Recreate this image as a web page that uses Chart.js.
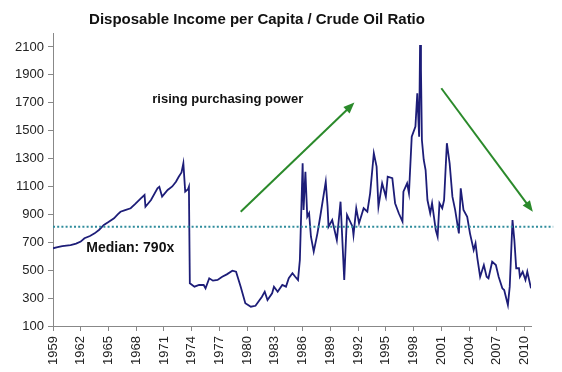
<!DOCTYPE html>
<html lang="en">
  <head>
    <meta charset="UTF-8" />
    <title>Disposable Income per Capita / Crude Oil Ratio</title>
    <script src="https://cdn.jsdelivr.net/npm/chart.js@4.4.1/dist/chart.umd.min.js"></script>
    <style>
      body { margin: 0; background: #fff; }
      #wrap { width: 562px; height: 372px; }
    </style>
  </head>
  <body>
    <div id="wrap"><canvas id="myChart"></canvas></div>
    <script>
    // values (year, ratio)
    const years = [
      1959.0, 1959.5, 1960.0, 1960.9, 1961.5, 1962.0, 1962.4, 1963.0, 1963.5, 1964.0,
      1964.5, 1965.0, 1965.6, 1966.0, 1966.3, 1966.8, 1967.4, 1967.9, 1968.5, 1968.9,
      1969.0, 1969.6, 1970.3, 1970.5, 1970.8, 1971.4, 1971.9, 1972.3, 1972.6, 1972.9,
      1973.1, 1973.3, 1973.6, 1973.7, 1973.8, 1974.3, 1974.8, 1975.3, 1975.5, 1975.9,
      1976.3, 1976.8, 1977.3, 1977.8, 1978.4, 1978.8, 1979.3, 1979.8, 1980.4, 1980.9,
      1981.6, 1981.9, 1982.2, 1982.7, 1982.9, 1983.3, 1983.8, 1984.2, 1984.5, 1984.9,
      1985.2, 1985.5, 1985.7, 1986.0, 1986.1, 1986.3, 1986.5, 1986.7, 1986.9, 1987.2,
      1987.6, 1987.9, 1988.5, 1988.7, 1988.8, 1989.2, 1989.7, 1990.1, 1990.5, 1990.8,
      1991.4, 1991.5, 1991.8, 1992.1, 1992.6, 1993.0, 1993.3, 1993.7, 1994.0, 1994.2,
      1994.6, 1995.0, 1995.2, 1995.7, 1996.0, 1996.4, 1996.8, 1996.9, 1997.3, 1997.5,
      1997.8, 1998.2, 1998.4, 1998.6, 1998.7, 1998.8, 1998.9, 1999.1, 1999.3, 1999.5,
      1999.8, 2000.0, 2000.4, 2000.6, 2000.8, 2001.1, 2001.3, 2001.6, 2001.9, 2002.2,
      2002.5, 2002.9, 2003.1, 2003.4, 2003.8, 2004.1, 2004.5, 2004.7, 2004.9, 2005.2,
      2005.6, 2005.9, 2006.1, 2006.5, 2006.9, 2007.2, 2007.6, 2007.8, 2008.2, 2008.4,
      2008.7, 2008.9, 2009.1, 2009.4, 2009.5, 2009.8, 2010.1, 2010.3, 2010.5, 2010.7
    ];
    const ratio = [
      657, 665, 672, 680, 690, 705, 729, 745, 764, 790,
      824, 845, 872, 900, 919, 930, 944, 975, 1015, 1039,
      955, 1003, 1087, 1098, 1027, 1075, 1100, 1134, 1170, 1200,
      1266, 1063, 1080, 1098, 406, 382, 395, 394, 370, 442,
      425, 430, 453, 470, 496, 489, 382, 263, 238, 245,
      310, 346, 286, 334, 382, 346, 394, 382, 442, 478,
      453, 430, 573, 1266, 931, 1206, 883, 908, 740, 633,
      764, 883, 1134, 955, 812, 860, 716, 991, 430, 896,
      812, 752, 944, 836, 944, 919, 1051, 1338, 1242, 955,
      1123, 1027, 1170, 1159, 980, 908, 848, 1063, 1123, 1051,
      1457, 1529, 1768, 1457, 2114, 1935, 1433, 1290, 1218, 1003,
      908, 980, 788, 740, 980, 944, 1003, 1410, 1266, 1027,
      931, 764, 1087, 931, 883, 764, 645, 693, 585, 453,
      537, 453, 442, 561, 537, 453, 370, 358, 251, 382,
      860, 716, 514, 514, 453, 489, 430, 489, 430, 370
    ];
    const xTicks = [1959, 1962, 1965, 1968, 1971, 1974, 1977, 1980, 1983, 1986, 1989, 1992, 1995, 1998, 2001, 2004, 2007, 2010];
    const yTicks = [100, 300, 500, 700, 900, 1100, 1300, 1500, 1700, 1900, 2100];

    // annotations, in data units
    const medianValue = 812;
    const medianSpan = [1959, 2013.1];
    const arrowUp = [[1979.3, 919], [1991.6, 1701]];
    const arrowDown = [[2001.0, 1804], [2010.9, 919]];
    const risingLabel = { text: 'rising purchasing power', x: 1977.9, y: 1727 };
    const medianLabel = { text: 'Median: 790x', x: 1962.6, y: 659 };
    const titleText = 'Disposable Income per Capita / Crude Oil Ratio';

    const FONT = "'Liberation Sans', Arial, sans-serif";

    function drawArrow(ctx, x0, y0, x1, y1) {
      const a = Math.atan2(y1 - y0, x1 - x0);
      const head = 11;
      ctx.beginPath();
      ctx.moveTo(x0, y0);
      ctx.lineTo(x1 - Math.cos(a) * head * 0.8, y1 - Math.sin(a) * head * 0.8);
      ctx.stroke();
      ctx.beginPath();
      ctx.moveTo(x1, y1);
      ctx.lineTo(x1 - head * Math.cos(a) + 4.5 * Math.sin(a), y1 - head * Math.sin(a) - 4.5 * Math.cos(a));
      ctx.lineTo(x1 - head * Math.cos(a) - 4.5 * Math.sin(a), y1 - head * Math.sin(a) + 4.5 * Math.cos(a));
      ctx.closePath();
      ctx.fill();
    }

    const extras = {
      id: 'extras',
      afterDatasetsDraw(chart) {
        const ctx = chart.ctx;
        const xs = chart.scales.x, ys = chart.scales.y;
        ctx.save();
        // median line
        ctx.strokeStyle = '#2f8c9c';
        ctx.lineWidth = 2;
        ctx.setLineDash([2, 2.2]);
        ctx.beginPath();
        ctx.moveTo(xs.getPixelForValue(medianSpan[0]), ys.getPixelForValue(medianValue));
        ctx.lineTo(xs.getPixelForValue(medianSpan[1]), ys.getPixelForValue(medianValue));
        ctx.stroke();
        ctx.setLineDash([]);
        // arrows
        ctx.strokeStyle = '#2b8a2b';
        ctx.fillStyle = '#2b8a2b';
        ctx.lineWidth = 2;
        [arrowUp, arrowDown].forEach(function (ar) {
          drawArrow(ctx,
            xs.getPixelForValue(ar[0][0]), ys.getPixelForValue(ar[0][1]),
            xs.getPixelForValue(ar[1][0]), ys.getPixelForValue(ar[1][1]));
        });
        // labels
        ctx.fillStyle = '#111';
        ctx.textBaseline = 'middle';
        ctx.font = 'bold 13px ' + FONT;
        ctx.textAlign = 'center';
        ctx.fillText(risingLabel.text, xs.getPixelForValue(risingLabel.x), ys.getPixelForValue(risingLabel.y));
        ctx.font = 'bold 14px ' + FONT;
        ctx.textAlign = 'left';
        ctx.fillText(medianLabel.text, xs.getPixelForValue(medianLabel.x), ys.getPixelForValue(medianLabel.y));
        // title
        ctx.font = 'bold 15px ' + FONT;
        ctx.textAlign = 'center';
        ctx.fillText(titleText, 257, 20);
        ctx.restore();
      }
    };

    const points = years.map(function (y, i) { return { x: y, y: ratio[i] }; });

    const ctx = document.getElementById('myChart').getContext('2d');
    const myChart = new Chart(ctx, {
      type: 'line',
      data: {
        datasets: [{
          label: 'Disposable income per capita / crude oil',
          data: points,
          borderColor: '#1d1d78',
          borderWidth: 1.8,
          pointRadius: 0,
          tension: 0,
          fill: false
        }]
      },
      options: {
        responsive: true,
        maintainAspectRatio: false,
        animation: false,
        layout: { padding: { top: 33, right: 31, left: 0, bottom: 0 } },
        plugins: {
          legend: { display: false },
          title: { display: false },
          tooltip: { enabled: false }
        },
        scales: {
          x: {
            type: 'linear',
            min: 1959,
            max: 2010.7,
            afterBuildTicks: function (s) { s.ticks = xTicks.map(function (v) { return { value: v }; }); },
            afterFit: function (s) { s.height = 46; },
            border: { display: true, color: '#888', width: 1 },
            grid: { drawOnChartArea: false, drawTicks: true, tickLength: 5, color: '#888' },
            ticks: {
              autoSkip: false,
              minRotation: 90,
              maxRotation: 90,
              padding: 5,
              color: '#222',
              font: { family: FONT, size: 13 },
              callback: function (v) { return String(v); }
            }
          },
          y: {
            min: 100,
            max: 2200,
            afterBuildTicks: function (s) { s.ticks = yTicks.map(function (v) { return { value: v }; }); },
            afterFit: function (s) { s.width = 53; },
            border: { display: true, color: '#888', width: 1 },
            grid: { drawOnChartArea: false, drawTicks: true, tickLength: 5, color: '#888' },
            ticks: {
              padding: 4,
              color: '#222',
              font: { family: FONT, size: 13 },
              callback: function (v) { return String(v); }
            }
          }
        }
      },
      plugins: [extras]
    });
    </script>
  </body>
</html>
